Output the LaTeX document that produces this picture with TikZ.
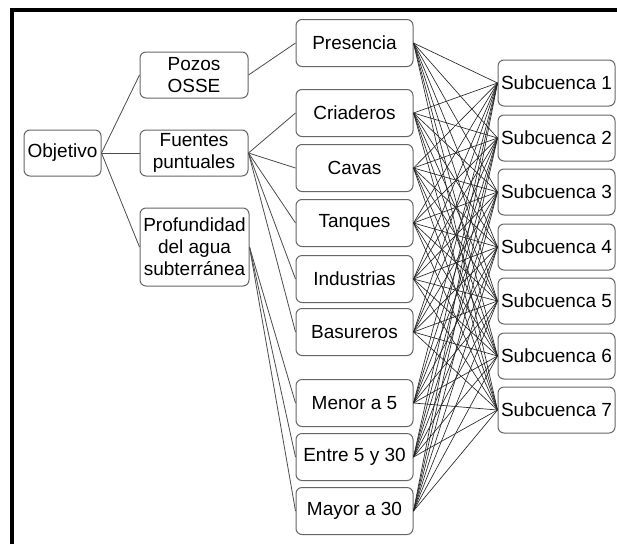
\documentclass[tikz,border=0pt]{standalone}
\usepackage{fontspec}
\setmainfont{Liberation Sans}
\begin{document}
\begin{tikzpicture}[x=1pt,y=-1pt,
  box/.style={draw=black!60, line width=1pt, rounded corners=6pt, fill=white,
    inner sep=0pt, align=center, font=\fontsize{19}{22}\selectfont},
  mid/.style={box, minimum width=117pt, minimum height=47pt},
  sub/.style={box, minimum width=117pt, minimum height=46pt},
  link/.style={draw=black!70, line width=0.8pt},
  mesh/.style={draw=black!85, line width=0.65pt}]
\useasboundingbox (0,0) rectangle (617,544);
\fill[white] (0,0) rectangle (617,544);
% frame
\draw[line width=4pt] (12,544) -- (12,10) -- (617,10);
% left nodes
\node[box, minimum width=77pt, minimum height=46pt] (obj) at (62.5,153) {Objetivo};
\node[box, minimum width=108pt, minimum height=46pt] (pozos) at (194,75) {Pozos\\OSSE};
\node[box, minimum width=108pt, minimum height=46pt] (fuen) at (194,153) {Fuentes\\puntuales};
\node[box, minimum width=109pt, minimum height=78pt] (prof) at (194.5,247) {Profundidad\\del agua\\subterránea};
% middle nodes
\node[mid] (m1) at (354.5,43) {Presencia};
\node[mid] (m2) at (354.5,113) {Criaderos};
\node[mid] (m3) at (354.5,168) {Cavas};
\node[mid] (m4) at (354.5,223) {Tanques};
\node[mid] (m5) at (354.5,279) {Industrias};
\node[mid] (m6) at (354.5,332) {Basureros};
\node[mid] (m7) at (354.5,403) {Menor a 5};
\node[mid] (m8) at (354.5,457) {Entre 5 y 30};
\node[mid] (m9) at (354.5,511) {Mayor a 30};
% right nodes
\node[sub] (s1) at (556.5,83) {Subcuenca 1};
\node[sub] (s2) at (556.5,138) {Subcuenca 2};
\node[sub] (s3) at (556.5,192) {Subcuenca 3};
\node[sub] (s4) at (556.5,247) {Subcuenca 4};
\node[sub] (s5) at (556.5,301) {Subcuenca 5};
\node[sub] (s6) at (556.5,356) {Subcuenca 6};
\node[sub] (s7) at (556.5,410) {Subcuenca 7};
% links
\draw[link] (obj.east) -- (pozos.west);
\draw[link] (obj.east) -- (fuen.west);
\draw[link] (obj.east) -- (prof.west);
\draw[link] (pozos.east) -- (m1.west);
\foreach \m in {m2,m3,m4,m5,m6} \draw[link] (fuen.east) -- (\m.west);
\foreach \m in {m7,m8,m9} \draw[link] (prof.east) -- (\m.west);
\foreach \m in {m1,m2,m3,m4,m5,m6,m7,m8,m9}
  \foreach \s in {s1,s2,s3,s4,s5,s6,s7}
    \draw[mesh] (\m.east) -- (\s.west);
\end{tikzpicture}
\end{document}
